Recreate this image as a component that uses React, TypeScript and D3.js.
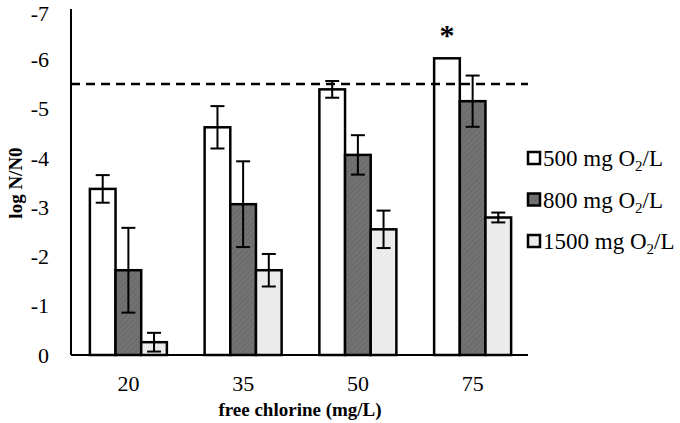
import React from "react";
import * as d3 from "d3";

const categories = ["20", "35", "50", "75"];
const seriesNames = ["500", "800", "1500"];
const values500 = [-3.37, -4.62, -5.39, -6.02];
const errors500 = [0.28, 0.43, 0.17, 0];
const values800 = [-1.72, -3.06, -4.06, -5.15];
const errors800 = [0.86, 0.87, 0.4, 0.52];
const values1500 = [-0.26, -1.72, -2.55, -2.79];
const errors1500 = [0.19, 0.33, 0.38, 0.1];
const yTicks = [0, -1, -2, -3, -4, -5, -6, -7];
const thresholdValue = -5.5;

const W = 680, H = 423;

export default function App() {
  const x0 = d3.scaleBand().domain(categories).range([71, 530]).paddingInner(0).paddingOuter(0);
  const x1 = d3.scaleBand().domain(seriesNames).range([0, 77]);
  const y = d3.scaleLinear().domain([0, -7]).range([355, 10]);
  const series = [
    { name: "500", vals: values500, errs: errors500, fill: "#ffffff" },
    { name: "800", vals: values800, errs: errors800, fill: "url(#hatch)" },
    { name: "1500", vals: values1500, errs: errors1500, fill: "#ebebeb" },
  ];
  const font = "'Liberation Serif', 'Times New Roman', serif";
  const barX = (c: string, s: string) => x0(c)! + (x0.bandwidth() - 77) / 2 + x1(s)!;
  return (
    <svg width={W} height={H} style={{ position: "absolute", left: 0, top: 0 }} fontFamily={font}>
      <defs>
        <pattern id="hatch" patternUnits="userSpaceOnUse" width="4" height="4" patternTransform="rotate(45)">
          <rect width="4" height="4" fill="#727272" />
          <line x1="0" y1="0" x2="0" y2="4" stroke="#656565" strokeWidth="1.5" />
        </pattern>
      </defs>
      <rect width={W} height={H} fill="#fff" />
      {series.map((s) =>
        categories.map((c, i) => {
          const bx = barX(c, s.name);
          const bw = x1.bandwidth();
          const top = y(s.vals[i]);
          return (
            <rect key={s.name + c} x={bx} y={top} width={bw} height={y(0) - top}
              fill={s.fill} stroke="#000" strokeWidth={2.5} />
          );
        })
      )}
      {series.map((s) =>
        categories.map((c, i) => {
          if (!s.errs[i]) return null;
          const cx = barX(c, s.name) + x1.bandwidth() / 2;
          const ya = y(s.vals[i] - s.errs[i]);
          const yb = y(s.vals[i] + s.errs[i]);
          return (
            <g key={"e" + s.name + c} stroke="#000" strokeWidth={2}>
              <line x1={cx} x2={cx} y1={ya} y2={yb} />
              <line x1={cx - 7} x2={cx + 7} y1={ya} y2={ya} />
              <line x1={cx - 7} x2={cx + 7} y1={yb} y2={yb} />
            </g>
          );
        })
      )}
      <line x1={71} x2={528} y1={y(thresholdValue)} y2={y(thresholdValue)} stroke="#000" strokeWidth={2.5} strokeDasharray="9,6" />
      <line x1={71} x2={71} y1={9} y2={355} stroke="#000" strokeWidth={2} />
      <line x1={71} x2={528} y1={355} y2={355} stroke="#000" strokeWidth={2} />
      {yTicks.map((t) => (
        <text key={t} x={49} y={Math.max(y(t), 13)} dy="0.35em" textAnchor="end" fontSize={22}>{t === 0 ? "0" : "-" + Math.abs(t)}</text>
      ))}
      {categories.map((c) => (
        <text key={c} x={x0(c)! + x0.bandwidth() / 2} y={391} textAnchor="middle" fontSize={22}>{c}</text>
      ))}
      <text x={300} y={416} textAnchor="middle" fontSize={19} fontWeight="bold">free chlorine (mg/L)</text>
      <text transform="translate(22,183) rotate(-90)" textAnchor="middle" fontSize={19} fontWeight="bold">log N/N0</text>
      <text x={barX("75", "500") + x1.bandwidth() / 2} y={y(values500[3]) - 13} textAnchor="middle" fontSize={30} fontWeight="bold">*</text>
      {series.map((s, i) => {
        const cy = 158 + i * 41.5;
        return (
          <g key={"l" + s.name}>
            <rect x={528} y={cy - 6} width={12} height={12} fill={s.fill} stroke="#000" strokeWidth={2.5} />
            <text x={543} y={cy} dy="0.35em" fontSize={23}>
              {s.name} mg O<tspan fontSize={15} dy="5">2</tspan><tspan dy="-5">/L</tspan>
            </text>
          </g>
        );
      })}
    </svg>
  );
}
